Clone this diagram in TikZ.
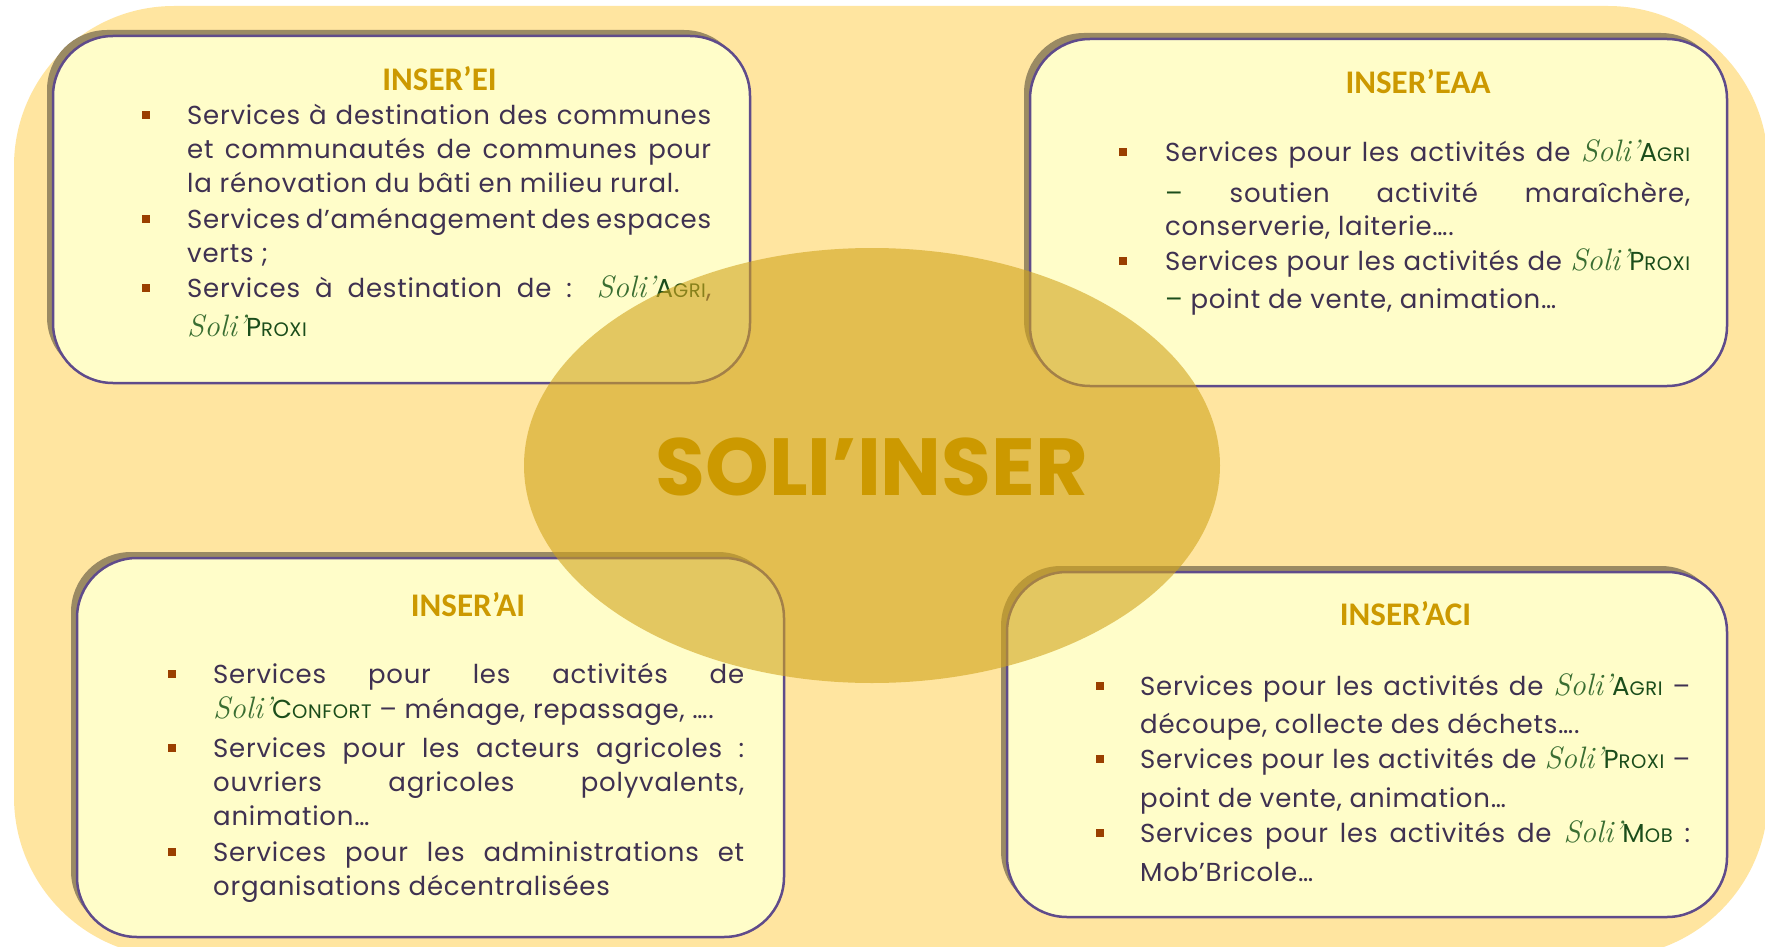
\documentclass[tikz,border=0pt]{standalone}
\usepackage{fontspec}
\setmainfont{Poppins}[LetterSpace=3]
\newfontfamily\titlef{Poppins}
\newfontfamily\headf{Carlito}
\newfontfamily\scrf{Latin Modern Roman}
\definecolor{bgc}{HTML}{FFE5A0}
\definecolor{boxc}{HTML}{FFFDC9}
\definecolor{bordc}{HTML}{5F4B8B}
\definecolor{shadc}{HTML}{9A8A63}
\definecolor{ellc}{HTML}{D1A41C}
\definecolor{goldc}{HTML}{CC9900}
\definecolor{txtc}{HTML}{3F3151}
\definecolor{bulc}{HTML}{9A3F00}
\definecolor{soligreen}{HTML}{3A6E32}
\definecolor{dkgreen}{HTML}{1B4D1B}
\newcommand\soli{{\scrf\itshape\fontsize{31pt}{31pt}\selectfont\color{soligreen}Soli’}}
\newcommand\smc[2]{{\color{dkgreen}#1{\fontsize{19.5pt}{19.5pt}\selectfont #2}}}
\newcommand\J[2]{\hbox to #1pt{#2}}
\begin{document}
\begin{tikzpicture}[x=1pt,y=-1pt,
  panel/.style={fill=boxc, draw=bordc, line width=2.5pt, rounded corners=60pt},
  shad/.style={fill=shadc, rounded corners=60pt},
  ln/.style={anchor=base west, inner sep=0pt, text=txtc, font=\fontsize{26pt}{30pt}\selectfont},
  head/.style={anchor=base, inner sep=0pt, text=goldc, font=\headf\bfseries\fontsize{33pt}{36pt}\selectfont},
  bul/.style={rectangle, fill=bulc, minimum size=8pt, inner sep=0pt}]
\useasboundingbox (0,0) rectangle (1765,947);
\fill[white] (0,0) rectangle (1765,947);
\fill[bgc, rounded corners=160pt] (14,6) rectangle (1768,957);
% panels
\fill[shad] (47,30) rectangle (744,377);
\draw[panel] (53,36) rectangle (750,383);
\fill[shad] (1024,33) rectangle (1721,380);
\draw[panel] (1030,39) rectangle (1727,386);
\fill[shad] (71,552) rectangle (778,931);
\draw[panel] (77,558) rectangle (784,937);
\fill[shad] (1001,566) rectangle (1721,911);
\draw[panel] (1007,572) rectangle (1727,917);
% TL
\node[head] (tlh) at (439.5,91) {INSER’EI};
\node[bul] (tlb1) at (145.5,115.5) {};
\node[bul] (tlb2) at (145.5,218.5) {};
\node[bul] (tlb3) at (145.5,287.5) {};
\node[ln] (tl1) at (187,125) {\J{524}{Services à destination des communes}};
\node[ln] (tl2) at (187,159) {\J{524}{et communautés de communes pour}};
\node[ln] (tl3) at (187,193) {la rénovation du bâti en milieu rural.};
\node[ln] (tl4) at (187,228) {\J{524}{Services d’aménagement des espaces}};
\node[ln] (tl5) at (187,262) {verts ;};
\node[ln] (tl6) at (187,297) {\J{524}{Services à destination de : \soli\smc{A}{GRI},}};
\node[ln] (tl7) at (187,336) {\soli\smc{P}{ROXI}};
% TR
\node[head] (trh) at (1418,94) {INSER’EAA};
\node[bul] (trb1) at (1123,152.5) {};
\node[bul] (trb2) at (1123,260.5) {};
\node[ln] (tr1) at (1165,162) {\J{525}{Services pour les activités de \soli\smc{A}{GRI}}};
\node[ln] (tr2) at (1165,202) {\J{525}{{\color{dkgreen}–} soutien activité maraîchère,}};
\node[ln] (tr3) at (1165,235) {conserverie, laiterie….};
\node[ln] (tr4) at (1165,270) {\J{525}{Services pour les activités de \soli\smc{P}{ROXI}}};
\node[ln] (tr5) at (1165,308) {{\color{dkgreen}–} point de vente, animation…};
% BL
\node[head] (blh) at (468,616) {INSER’AI};
\node[bul] (blb1) at (172,673.5) {};
\node[bul] (blb2) at (172,747.5) {};
\node[bul] (blb3) at (172,851.5) {};
\node[ln] (bl1) at (213,683) {\J{531}{Services pour les activités de}};
\node[ln] (bl2) at (213,718) {\soli\smc{C}{ONFORT} – ménage, repassage, ….};
\node[ln] (bl3) at (213,757) {\J{531}{Services pour les acteurs agricoles :}};
\node[ln] (bl4) at (213,791) {\J{531}{ouvriers agricoles polyvalents,}};
\node[ln] (bl5) at (213,825) {animation…};
\node[ln] (bl6) at (213,861) {\J{531}{Services pour les administrations et}};
\node[ln] (bl7) at (213,895) {organisations décentralisées};
% BR
\node[head] (brh) at (1405.5,625) {INSER’ACI};
\node[bul] (brb1) at (1100,685.5) {};
\node[bul] (brb2) at (1100,758.5) {};
\node[bul] (brb3) at (1100,832.5) {};
\node[ln] (br1) at (1140,695) {\J{550}{Services pour les activités de \soli\smc{A}{GRI} –}};
\node[ln] (br2) at (1140,733) {découpe, collecte des déchets….};
\node[ln] (br3) at (1140,768) {\J{550}{Services pour les activités de \soli\smc{P}{ROXI} –}};
\node[ln] (br4) at (1140,807) {point de vente, animation…};
\node[ln] (br5) at (1140,842) {\J{550}{Services pour les activités de \soli\smc{M}{OB} :}};
\node[ln] (br6) at (1140,881) {Mob’Bricole…};
% centre
\fill[ellc, opacity=0.6] (872,465.5) ellipse [x radius=348pt, y radius=217.5pt];
\node[anchor=base, inner sep=0pt, text=goldc, font=\titlef\bfseries\fontsize{81pt}{81pt}\selectfont] (title) at (872,495) {SOLI’INSER};
\end{tikzpicture}
\end{document}
